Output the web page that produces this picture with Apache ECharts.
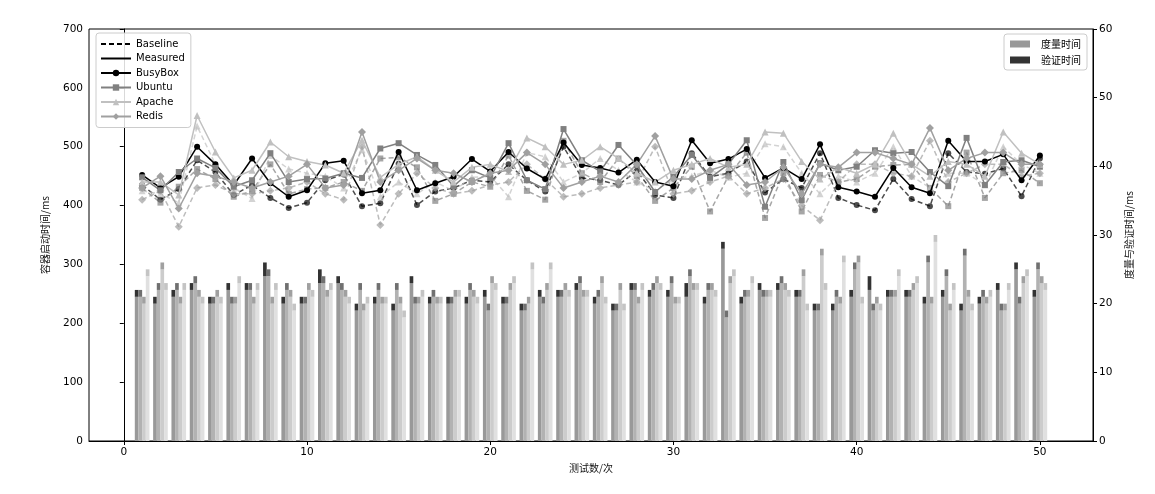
<!DOCTYPE html>
<html><head><meta charset="utf-8">
<script src="https://cdn.jsdelivr.net/npm/echarts@6/dist/echarts.min.js"></script>
<style>html,body{margin:0;padding:0;background:#fff}#c{width:1155px;height:494px}</style>
</head><body><div id="c"></div>
<script>
const runs = [1,2,3,4,5,6,7,8,9,10,11,12,13,14,15,16,17,18,19,20,21,22,23,24,25,26,27,28,29,30,31,32,33,34,35,36,37,38,39,40,41,42,43,44,45,46,47,48,49,50];
const xTicks = [0,10,20,30,40,50];

// startup times (ms), measured / baseline per image
const busyboxMeasured = [452,430,449,500,470,435,480,438,415,426,472,476,421,426,491,426,438,449,479,458,491,463,445,507,469,464,456,478,440,433,511,472,479,496,447,464,445,504,431,424,415,464,431,421,510,475,475,487,443,485];
const busyboxBaseline = [435,410,428,477,457,418,435,413,396,405,443,453,399,404,471,401,424,430,443,440,470,443,424,500,447,443,435,459,418,413,489,449,455,475,422,445,430,489,413,401,392,445,411,399,489,457,454,463,416,480];
const ubuntuMeasured = [448,426,457,480,464,432,443,489,440,445,446,455,447,497,506,486,469,433,460,447,506,443,428,530,477,458,503,469,423,449,486,447,470,511,398,474,409,472,460,466,494,489,491,457,433,515,435,474,477,466];
const ubuntuBaseline = [430,405,432,462,445,415,425,470,420,428,430,440,425,480,482,465,408,420,440,432,485,425,410,510,455,440,480,450,408,430,466,390,450,490,379,455,390,452,440,445,466,469,470,430,399,490,413,455,460,438];
const apacheMeasured = [440,440,418,553,491,447,460,508,483,475,469,455,511,448,470,483,460,440,465,470,458,515,500,470,477,500,480,455,440,460,470,480,465,470,525,523,475,445,465,455,470,523,470,450,475,470,450,525,489,470];
const apacheBaseline = [425,420,405,535,470,430,412,485,462,455,450,430,495,415,440,420,440,425,448,450,415,490,483,440,455,480,460,440,425,445,450,460,448,455,505,500,455,420,450,440,455,500,450,430,455,455,435,500,470,455];
const redisMeasured = [430,450,395,455,450,440,430,440,450,470,430,435,525,440,460,480,460,455,440,455,460,490,470,430,440,450,440,470,518,445,445,460,470,435,440,465,420,470,465,490,490,480,470,532,460,480,490,490,470,470];
const redisBaseline = [410,425,364,430,435,420,420,425,430,440,420,410,500,367,420,455,430,420,425,435,440,470,445,415,420,430,435,440,500,420,425,440,450,420,430,445,400,375,440,470,470,455,450,510,440,455,470,470,450,455];

// measurement / verification times (ms) per image
const busyboxMeasure = [21,20,21,22,20,22,22,24,20,20,23,23,19,20,19,23,20,20,20,21,20,19,21,21,22,20,19,22,21,21,21,20,28,20,22,22,21,19,19,21,22,21,21,20,21,19,20,22,25,21];
const busyboxVerify  = [1,1,1,1,1,1,1,2,1,1,2,1,1,1,1,1,1,1,1,1,1,1,1,1,1,1,1,1,1,1,2,1,1,1,1,1,1,1,1,1,2,1,1,1,1,1,1,1,1,1];
const ubuntuMeasure  = [21,22,22,23,20,20,22,24,22,20,23,22,22,22,22,20,21,20,22,19,20,19,20,21,23,21,19,22,22,23,24,22,18,21,21,23,21,19,21,25,19,21,21,26,24,27,21,19,20,25];
const ubuntuVerify   = [1,1,1,1,1,1,1,1,1,1,1,1,1,1,1,1,1,1,1,1,1,1,1,1,1,1,1,1,1,1,1,1,1,1,1,1,1,1,1,1,1,1,1,1,1,1,1,1,1,1];
const apacheMeasure  = [20,25,20,21,21,20,20,20,21,22,21,21,19,20,20,20,20,21,21,23,22,20,22,22,21,23,22,20,23,20,22,22,23,21,21,22,24,27,20,26,20,21,22,20,19,21,20,19,23,23];
const apacheVerify   = [1,1,1,1,1,1,1,1,1,1,1,1,1,1,1,1,1,1,1,1,1,1,1,1,1,1,1,1,1,1,1,1,1,1,1,1,1,1,1,1,1,1,1,1,1,1,1,1,1,1];
const redisMeasure   = [24,22,22,20,20,23,22,22,19,21,22,20,20,20,18,21,20,21,20,22,23,25,25,21,21,20,19,22,22,20,22,21,24,23,21,21,19,22,26,20,19,24,23,29,22,19,21,22,24,22];
const redisVerify    = [1,1,1,1,1,1,1,1,1,1,1,1,1,1,1,1,1,1,1,1,1,1,1,1,1,1,1,1,1,1,1,1,1,1,1,1,1,1,1,1,1,1,1,1,1,1,1,1,1,1];

const images = [
  {name:'BusyBox', color:'#000000', symbol:'circle', size:6, m:busyboxMeasured, b:busyboxBaseline,
   bm:busyboxMeasure, bv:busyboxVerify, mc:'#999999', vc:'#333333', mName:'度量时间', vName:'验证时间'},
  {name:'Ubuntu', color:'#808080', symbol:'rect', size:6, m:ubuntuMeasured, b:ubuntuBaseline,
   bm:ubuntuMeasure, bv:ubuntuVerify, mc:'#b2b2b2', vc:'#707070', mName:'Ubuntu-m', vName:'Ubuntu-v'},
  {name:'Apache', color:'#c0c0c0', symbol:'triangle', size:7, m:apacheMeasured, b:apacheBaseline,
   bm:apacheMeasure, bv:apacheVerify, mc:'#cccccc', vc:'#a0a0a0', mName:'Apache-m', vName:'Apache-v'},
  {name:'Redis', color:'#a0a0a0', symbol:'diamond', size:8, m:redisMeasured, b:redisBaseline,
   bm:redisMeasure, bv:redisVerify, mc:'#e0e0e0', vc:'#c4c4c4', mName:'Redis-m', vName:'Redis-v'}
];

const pair = arr => runs.map((r,i)=>[r, arr[i]]);
const pairYX = arr => runs.map((r,i)=>[arr[i], r]);
const series = [];
images.forEach((im, k) => {
  series.push({name: im.mName, type:'bar', xAxisIndex:0, yAxisIndex:1, stack:'s'+k, barWidth:3.66, barGap:'0%',
    encode:{x:1, y:0}, itemStyle:{color: im.mc}, data: pairYX(im.bm), z:1});
  series.push({name: im.vName, type:'bar', xAxisIndex:0, yAxisIndex:1, stack:'s'+k, barWidth:3.66, barGap:'0%',
    encode:{x:1, y:0}, itemStyle:{color: im.vc}, data: pairYX(im.bv), z:1});
});
images.forEach(im => {
  series.push({name: im.name + ' baseline', type:'line', xAxisIndex:0, yAxisIndex:0, data: pair(im.b),
    symbol: im.symbol, symbolSize: im.size, showSymbol:true,
    lineStyle:{color: im.color, width:1.5, type:[5,3], opacity:0.7},
    itemStyle:{color: im.color, opacity:0.7}, z:3});
  series.push({name: im.name, type:'line', xAxisIndex:0, yAxisIndex:0, data: pair(im.m),
    symbol: im.symbol, symbolSize: im.size, showSymbol:true,
    lineStyle:{color: im.color, width:1.5},
    itemStyle:{color: im.color}, z:4});
});
series.push({name:'Baseline', type:'line', data:[], symbol:'circle',
  lineStyle:{color:'#000', width:1.5, type:[5,3]}, itemStyle:{color:'rgba(0,0,0,0)', borderWidth:0}});
series.push({name:'Measured', type:'line', data:[], symbol:'circle',
  lineStyle:{color:'#000', width:1.5}, itemStyle:{color:'rgba(0,0,0,0)', borderWidth:0}});

const tickFont = {fontFamily:'DejaVu Sans', fontSize:10.5, color:'#000'};
const option = {
  animation:false,
  backgroundColor:'#fff',
  grid:{left:89, right:62, top:29, bottom:53, show:true, borderColor:'#000', borderWidth:1, containLabel:false},
  legend:[
    {data:['Baseline','Measured','BusyBox','Ubuntu','Apache','Redis'], orient:'vertical', left:96, top:33,
     itemWidth:30, itemHeight:8, itemGap:4.5, padding:[6,6,6,4], backgroundColor:'rgba(255,255,255,0.85)',
     borderColor:'#cccccc', borderWidth:1, borderRadius:3, selectedMode:false,
     textStyle:{fontFamily:'DejaVu Sans', fontSize:10, color:'#000'}},
    {data:['度量时间','验证时间'], orient:'vertical', right:68, top:34, icon:'rect',
     itemWidth:20, itemHeight:7, itemGap:6, padding:[5,6,5,6], backgroundColor:'rgba(255,255,255,0.85)',
     borderColor:'#cccccc', borderWidth:1, borderRadius:3, selectedMode:false,
     textStyle:{fontFamily:'Noto Sans CJK SC', fontSize:10, color:'#000', padding:[0,0,0,6]}}
  ],
  xAxis:[{type:'value', min:-1.9, max:52.9, name:'测试数/次', nameLocation:'middle', nameGap:22,
    nameTextStyle:{fontFamily:'Noto Sans CJK SC', fontSize:10, color:'#111'},
    axisLine:{show:true, lineStyle:{color:'#000'}}, splitLine:{show:false},
    axisTick:{show:true, inside:false, length:4, customValues:xTicks, lineStyle:{color:'#000'}},
    axisLabel:{customValues:xTicks, margin:6, ...tickFont}}],
  yAxis:[
    {type:'value', min:0, max:700, interval:100, position:'left', name:'容器启动时间/ms', nameLocation:'middle', nameGap:39, nameRotate:90,
     nameTextStyle:{fontFamily:'Noto Sans CJK SC', fontSize:10, color:'#111'},
     axisLine:{show:true, lineStyle:{color:'#000'}}, splitLine:{show:false},
     axisTick:{show:true, length:4, lineStyle:{color:'#000'}}, axisLabel:{margin:6, ...tickFont}},
    {type:'value', min:0, max:60, interval:10, position:'right', name:'度量与验证时间/ms', nameLocation:'middle', nameGap:31, nameRotate:90,
     nameTextStyle:{fontFamily:'Noto Sans CJK SC', fontSize:10, color:'#111'},
     axisLine:{show:true, lineStyle:{color:'#000'}}, splitLine:{show:false},
     axisTick:{show:true, length:4, lineStyle:{color:'#000'}}, axisLabel:{margin:6, ...tickFont}}
  ],
  series: series
};
const chart = echarts.init(document.getElementById('c'), null, {renderer:'canvas'});
chart.setOption(option);
</script>
</body></html>
